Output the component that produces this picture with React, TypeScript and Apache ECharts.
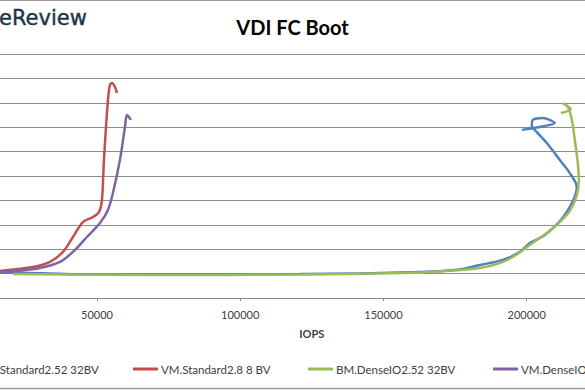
import React, { useEffect, useRef } from "react";
import * as echarts from "echarts";

const titleText = "VDI FC Boot";
const logoText = "eReview";
const xAxisName = "IOPS";
const seriesNames = ["BM.Standard2.52 32BV", "VM.Standard2.8 8 BV", "BM.DenseIO2.52 32BV", "VM.DenseIO2.8 8 BV"];
const seriesColors = ["#4F81BD", "#C0504D", "#9BBB59", "#8064A2"];

const blueIops = [5000, 16150, 51040, 120820, 162690, 176650, 183630, 191650, 197580, 201070, 206310, 213280, 217470, 215030, 211540, 207000, 203520, 201770, 202120, 205610, 209790, 204560, 198280];
const blueLat = [0.95, 1.05, 0.96, 0.98, 1.07, 1.17, 1.35, 1.56, 1.89, 2.25, 2.58, 3.4, 4.55, 5.12, 5.66, 6.35, 6.8, 7.05, 7.3, 7.38, 7.17, 7.01, 6.89];

const redIops = [5000, 16150, 27670, 33600, 38130, 41620, 45110, 48600, 50700, 51740, 52440, 53830, 54530, 55230, 56280, 56980];
const redLat = [0.95, 1.11, 1.27, 1.48, 1.89, 2.5, 3.11, 3.32, 3.52, 4.02, 5.66, 8.11, 8.73, 8.81, 8.65, 8.4];

const greenIops = [20690, 68490, 120820, 155710, 172110, 183630, 190600, 195140, 201070, 207000, 211540, 215030, 217470, 218170, 217820, 216770, 215730, 214330, 212590, 215380, 211890];
const greenLat = [0.98, 0.94, 0.96, 1.02, 1.11, 1.23, 1.43, 1.68, 2.17, 2.66, 3.11, 3.57, 4.22, 4.84, 5.53, 6.48, 7.3, 7.83, 7.99, 7.75, 7.58];

const purpleIops = [5000, 16150, 23130, 30110, 37090, 41620, 46510, 51040, 53830, 55580, 58020, 59770, 60460, 61860];
const purpleLat = [0.93, 1.07, 1.12, 1.23, 1.48, 1.89, 2.5, 3.07, 3.61, 4.3, 5.66, 7.0, 7.5, 7.3];

const xMin = 0;
const xMax = 250000;
const xInterval = 50000;
const yMin = 0;
const yMax = 10;
const yInterval = 1;

const allIops = [blueIops, redIops, greenIops, purpleIops];
const allLat = [blueLat, redLat, greenLat, purpleLat];

// The reference is a crop of a wider chart: draw the chart wider and clip it.
const OFFSET = 100;
const CHART_W = 585 + OFFSET * 2;
const CHART_H = 390;
// left edge of each legend entry in page pixels (the reference crop)
const legendLefts = [-49, 133, 308, 493];

export default function App() {
  const ref = useRef<HTMLDivElement>(null);
  useEffect(() => {
    if (!ref.current) return;
    const chart = echarts.init(ref.current, null, { renderer: "svg" });
    const font = "Lato, 'Open Sans', sans-serif";
    chart.setOption({
      animation: false,
      backgroundColor: "#ffffff",
      title: {
        text: titleText,
        left: "center",
        top: 12,
        textStyle: { fontFamily: font, fontWeight: "bold", fontSize: 20, color: "#000000" },
      },
      graphic: [
        {
          type: "text",
          x: OFFSET - 1,
          y: 18,
          style: {
            text: logoText,
            fontFamily: "'DejaVu Sans', sans-serif",
            fontSize: 21,
            fill: "#1d3646",
            stroke: "#1d3646",
            lineWidth: 0.4,
            verticalAlign: "middle",
            align: "left",
          },
        },
        {
          type: "line",
          shape: { x1: 0, y1: 0.5, x2: CHART_W, y2: 0.5 },
          style: { stroke: "#9a9a9a", lineWidth: 1 },
        },
        {
          type: "line",
          shape: { x1: 0, y1: 388.5, x2: CHART_W, y2: 388.5 },
          style: { stroke: "#9a9a9a", lineWidth: 1.5 },
        },
      ],
      legend: seriesNames.map((name, i) => ({
        left: OFFSET + legendLefts[i],
        top: 363,
        padding: 0,
        itemWidth: 25,
        itemHeight: 3,
        icon: "rect",
        data: [name],
        textStyle: { fontFamily: font, fontSize: 11.5, color: "#404040", padding: [0, 0, 0, -2] },
      })),
      grid: { left: OFFSET - 46.3, right: CHART_W - (OFFSET + 670), top: 54, bottom: 92, containLabel: false },
      xAxis: {
        type: "value",
        min: xMin,
        max: xMax,
        interval: xInterval,
        name: xAxisName,
        nameLocation: "middle",
        nameGap: 30,
        nameTextStyle: { fontFamily: font, fontWeight: "bold", fontSize: 11, color: "#404040" },
        axisLine: { show: true, lineStyle: { color: "#8c8c8c", width: 1 } },
        axisTick: { show: true, length: 3, lineStyle: { color: "#8c8c8c" } },
        axisLabel: {
          margin: 11,
          fontFamily: font,
          fontSize: 11,
          color: "#404040",
          showMinLabel: false,
          showMaxLabel: false,
          formatter: (v: number) => String(v),
        },
        splitLine: { show: false },
      },
      yAxis: {
        type: "value",
        min: yMin,
        max: yMax,
        interval: yInterval,
        axisLine: { show: false },
        axisTick: { show: false },
        axisLabel: { show: false },
        splitLine: { show: true, lineStyle: { color: "#8c8c8c", width: 1 } },
      },
      series: seriesNames.map((name, i) => ({
        name,
        type: "line",
        showSymbol: false,
        smooth: 0.3,
        color: seriesColors[i],
        lineStyle: { width: 2.5, color: seriesColors[i] },
        data: allIops[i].map((x, j) => [x, allLat[i][j]]),
      })),
    });
    return () => chart.dispose();
  }, []);
  return (
    <div
      style={{
        position: "fixed",
        left: 0,
        top: 0,
        width: 585,
        height: 390,
        overflow: "hidden",
        background: "#ffffff",
      }}
    >
      <div
        ref={ref}
        style={{ position: "absolute", left: -OFFSET, top: 0, width: CHART_W, height: CHART_H }}
      />
    </div>
  );
}
